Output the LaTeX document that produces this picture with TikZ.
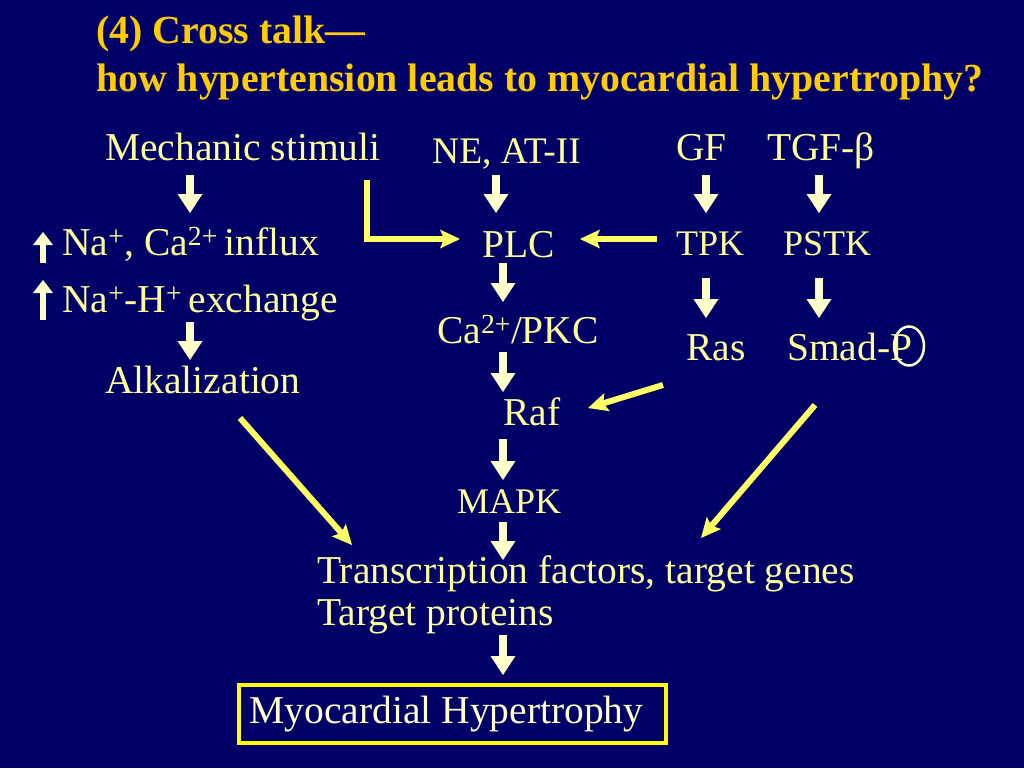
\documentclass[tikz,border=0pt]{standalone}
\usepackage{fontspec}
\setmainfont{Liberation Serif}
\usetikzlibrary{arrows.meta,shapes.geometric}
\definecolor{bg}{HTML}{000066}
\definecolor{ttl}{HTML}{FFCC00}
\definecolor{txt}{HTML}{FFFF99}
\definecolor{cream}{HTML}{FFFFCC}
\definecolor{yl}{HTML}{FFFF66}
\definecolor{boxy}{HTML}{FFFF00}
\begin{document}
\begin{tikzpicture}[x=1pt,y=-1pt,
  lbl/.style={anchor=base west, inner sep=0pt, text=txt, font=\fontsize{39.5}{47}\selectfont},
  lblsm/.style={lbl, font=\fontsize{36}{43}\selectfont},
  ttlsty/.style={anchor=base west, inner sep=0pt, text=ttl, font=\fontsize{39.8}{48}\selectfont\bfseries},
  blk/.style={draw=cream, line width=8.5pt, -{Triangle[length=19pt,width=25pt,line width=0pt]}},
  blksm/.style={draw=cream, line width=6pt, -{Triangle[length=13pt,width=20pt,line width=0pt]}},
  ya/.style={draw=yl, line width=6pt, line join=miter, -{Stealth[length=20pt,width=19pt,inset=4pt,line width=0pt]}},
]
\fill[bg] (0,0) rectangle (1024,768);
\useasboundingbox (0,0) rectangle (1024,768);

% title
\node[ttlsty] (t1) at (96,44) {(4) Cross talk—};
\node[ttlsty] (t2) at (96,91) {how hypertension leads to myocardial hypertrophy?};

% labels
\node[lbl] (mech) at (105,160) {Mechanic stimuli};
\node[lbl, font=\fontsize{37.5}{45}\selectfont] (ne) at (432,163) {NE, AT-II};
\node[lbl] (gf) at (676,160) {GF};
\node[lbl] (tgf) at (767,160) {TGF-β};
\node[lbl] (na) at (62,255) {Na\textsuperscript{+}, Ca\textsuperscript{2+}\,influx};
\node[lbl] (nah) at (62,312) {Na\textsuperscript{+}-H\textsuperscript{+}\,exchange};
\node[lbl] (alk) at (105,393) {Alkalization};
\node[lbl] (plc) at (482,257) {PLC};
\node[lblsm] (tpk) at (676,255) {TPK};
\node[lblsm] (pstk) at (783,255) {PSTK};
\node[lbl] (ca) at (437,343) {Ca\textsuperscript{2+}/PKC};
\node[lbl] (ras) at (686,360) {Ras};
\node[lbl] (smad) at (787,360) {Smad-P};
\node[ellipse, draw=cream, line width=2.5pt, minimum width=30pt, minimum height=39pt, inner sep=0pt] (pcirc) at (909,346) {};
\node[lbl] (raf) at (503,425) {Raf};
\node[lblsm] (mapk) at (457,513) {MAPK};
\node[lbl] (tf) at (317,583) {Transcription factors, target genes};
\node[lbl] (tp) at (317,625) {Target proteins};
\node[draw=boxy, line width=4pt, minimum width=427pt, minimum height=58pt, inner sep=0pt, text=cream, font=\fontsize{39.5}{47}\selectfont] (myo) at (452.5,714) {\kern-12pt Myocardial Hypertrophy};

% block arrows
\draw[blk] ([shift={(85,15)}]mech.base west) -- ([shift={(128,-42)}]na.base west);
\draw[blksm] ([shift={(-19,8)}]na.base west) -- ([shift={(-19,-23)}]na.base west);
\draw[blksm] ([shift={(-19,8)}]nah.base west) -- ([shift={(-19,-32)}]nah.base west);
\draw[blk] ([shift={(128,10)}]nah.base west) -- ([shift={(85,-33)}]alk.base west);
\draw[blk] ([shift={(64,12)}]ne.base west) -- ([shift={(14,-44)}]plc.base west);
\draw[blk] ([shift={(21,6)}]plc.base west) -- ([shift={(66,-41)}]ca.base west);
\draw[blk] ([shift={(66,9)}]ca.base west) -- ([shift={(0,-33)}]raf.base west);
\draw[blk] ([shift={(0,14)}]raf.base west) -- ([shift={(46,-33)}]mapk.base west);
\draw[blk] ([shift={(46,9)}]mapk.base west) -- ([shift={(186,-23)}]tf.base west);
\draw[blk] ([shift={(186,10)}]tp.base west) -- ([shift={(50.5,-8)}]myo.north);
\draw[blk] ([shift={(30,15)}]gf.base west) -- ([shift={(30,-42)}]tpk.base west);
\draw[blk] ([shift={(52,15)}]tgf.base west) -- ([shift={(36,-42)}]pstk.base west);
\draw[blk] ([shift={(30,23)}]tpk.base west) -- ([shift={(20,-42)}]ras.base west);
\draw[blk] ([shift={(36,23)}]pstk.base west) -- ([shift={(32,-42)}]smad.base west);

% yellow arrows
\draw[ya] ([shift={(262,20)}]mech.base west) |- ([shift={(-22,-18)}]plc.base west);
\draw[ya] ([shift={(-19,-16)}]tpk.base west) -- ([shift={(98,-18)}]plc.base west);
\draw[ya] ([shift={(-23,25)}]ras.base west) -- ([shift={(85,-17)}]raf.base west);
\draw[ya] ([shift={(28,45)}]smad.base west) -- ([shift={(384,-45)}]tf.base west);
\draw[ya] ([shift={(135,25)}]alk.base west) -- ([shift={(35,-38)}]tf.base west);
\end{tikzpicture}
\end{document}
